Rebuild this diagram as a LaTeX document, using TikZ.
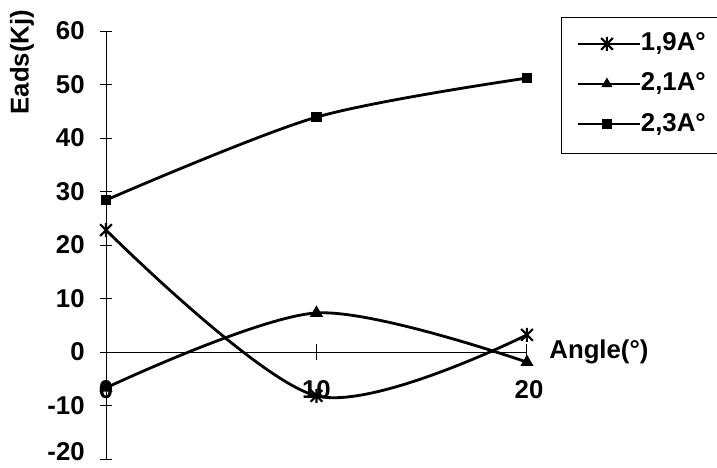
\documentclass[tikz,border=0pt]{standalone}
\usepackage{fontspec}
\setmainfont{Liberation Sans}
\usetikzlibrary{shapes.geometric}

\tikzstyle{axis}=[line width=0.8pt]
\tikzstyle{curve}=[line width=2.4pt, line join=round]
\tikzstyle{lbl}=[font=\fontsize{22}{26}\selectfont\bfseries, inner sep=1pt]
\tikzstyle{sqmark}=[fill, inner sep=0pt, minimum size=9pt]
\tikzstyle{trimark}=[fill, regular polygon, regular polygon sides=3, inner sep=0pt, minimum size=13pt]
\tikzset{starmark/.pic={\draw[line width=1.8pt] (-5pt,-5pt) -- (5pt,5pt) (-5pt,5pt) -- (5pt,-5pt) (0,-6pt) -- (0,6pt);}}

\begin{document}
\begin{tikzpicture}[x=0.6315cm, y=0.1605cm]
      \useasboundingbox (-5.036,-21.5) rectangle (29.03,65.8);

      % axes
      \draw[axis] (0,-20) -- (0,60);
      \draw[axis] (0,0) -- (20,0);
      \foreach \v in {-20,-10,...,60}
        \draw[axis] (-0.3,\v) -- (0.3,\v);
      \foreach \u in {10,20}
        \draw[axis] (\u,-1.5) -- (\u,1.5);

      \foreach \v in {-10,0,...,60}
        \node[lbl, anchor=east] (y\v) at (-0.95,\v) {\v};
      \node[lbl, anchor=east, inner sep=0pt] (y-20) at (-1.0,-18.6) {-20};
      \node[lbl] (x0) at (0,-7.1) {0};
      \node[lbl] (x10) at (10,-7.1) {10};
      \node[lbl] (x20) at (20.1,-7.1) {20};
      \node[lbl, rotate=90] (ytitle) at (-3.99,54.2) {Eads(Kj)};
      \node[lbl, anchor=west] (xtitle) at (21.0,0) {Angle(°)};

      % data
      \coordinate (a0) at (0,22.8);
      \coordinate (a10) at (10,-8.2);
      \coordinate (a20) at (20,3.2);
      \coordinate (b0) at (0,-6.7);
      \coordinate (b10) at (10,7.3);
      \coordinate (b20) at (20,-1.9);
      \coordinate (c0) at (0,28.4);
      \coordinate (c10) at (10,43.9);
      \coordinate (c20) at (20,51.2);

      \draw[curve] plot[smooth] coordinates {(a0) (a10) (a20)};
      \draw[curve] plot[smooth] coordinates {(b0) (b10) (b20)};
      \draw[curve] plot[smooth] coordinates {(c0) (c10) (c20)};

      \foreach \p in {a0,a10,a20}
        \pic at (\p) {starmark};
      \foreach \p in {b0,b10,b20}
        \node[trimark] at (\p) {};
      \foreach \p in {c0,c10,c20}
        \node[sqmark] at (\p) {};

      % legend
      \draw[axis] (29.03,62.6) -- (21.66,62.6) -- (21.66,37.2) -- (29.03,37.2);
      \coordinate (la) at (22.42,57.6);
      \coordinate (lb) at (22.42,50.1);
      \coordinate (lc) at (22.42,42.6);
      \coordinate (ma) at (23.8,57.6);
      \coordinate (mb) at (23.8,50.1);
      \coordinate (mc) at (23.8,42.6);
      \node[lbl, anchor=west] (ta) at (25.35,57.6) {1,9A°};
      \node[lbl, anchor=west] (tb) at (25.35,50.1) {2,1A°};
      \node[lbl, anchor=west] (tc) at (25.35,42.6) {2,3A°};
      \draw[curve, line width=2pt] (la) -- (ta.west);
      \draw[curve, line width=2pt] (lb) -- (tb.west);
      \draw[curve, line width=2pt] (lc) -- (tc.west);
      \pic at (ma) {starmark};
      \node[trimark, minimum size=11pt] at (mb) {};
      \node[sqmark, minimum size=8pt] at (mc) {};
    \end{tikzpicture}
\end{document}
